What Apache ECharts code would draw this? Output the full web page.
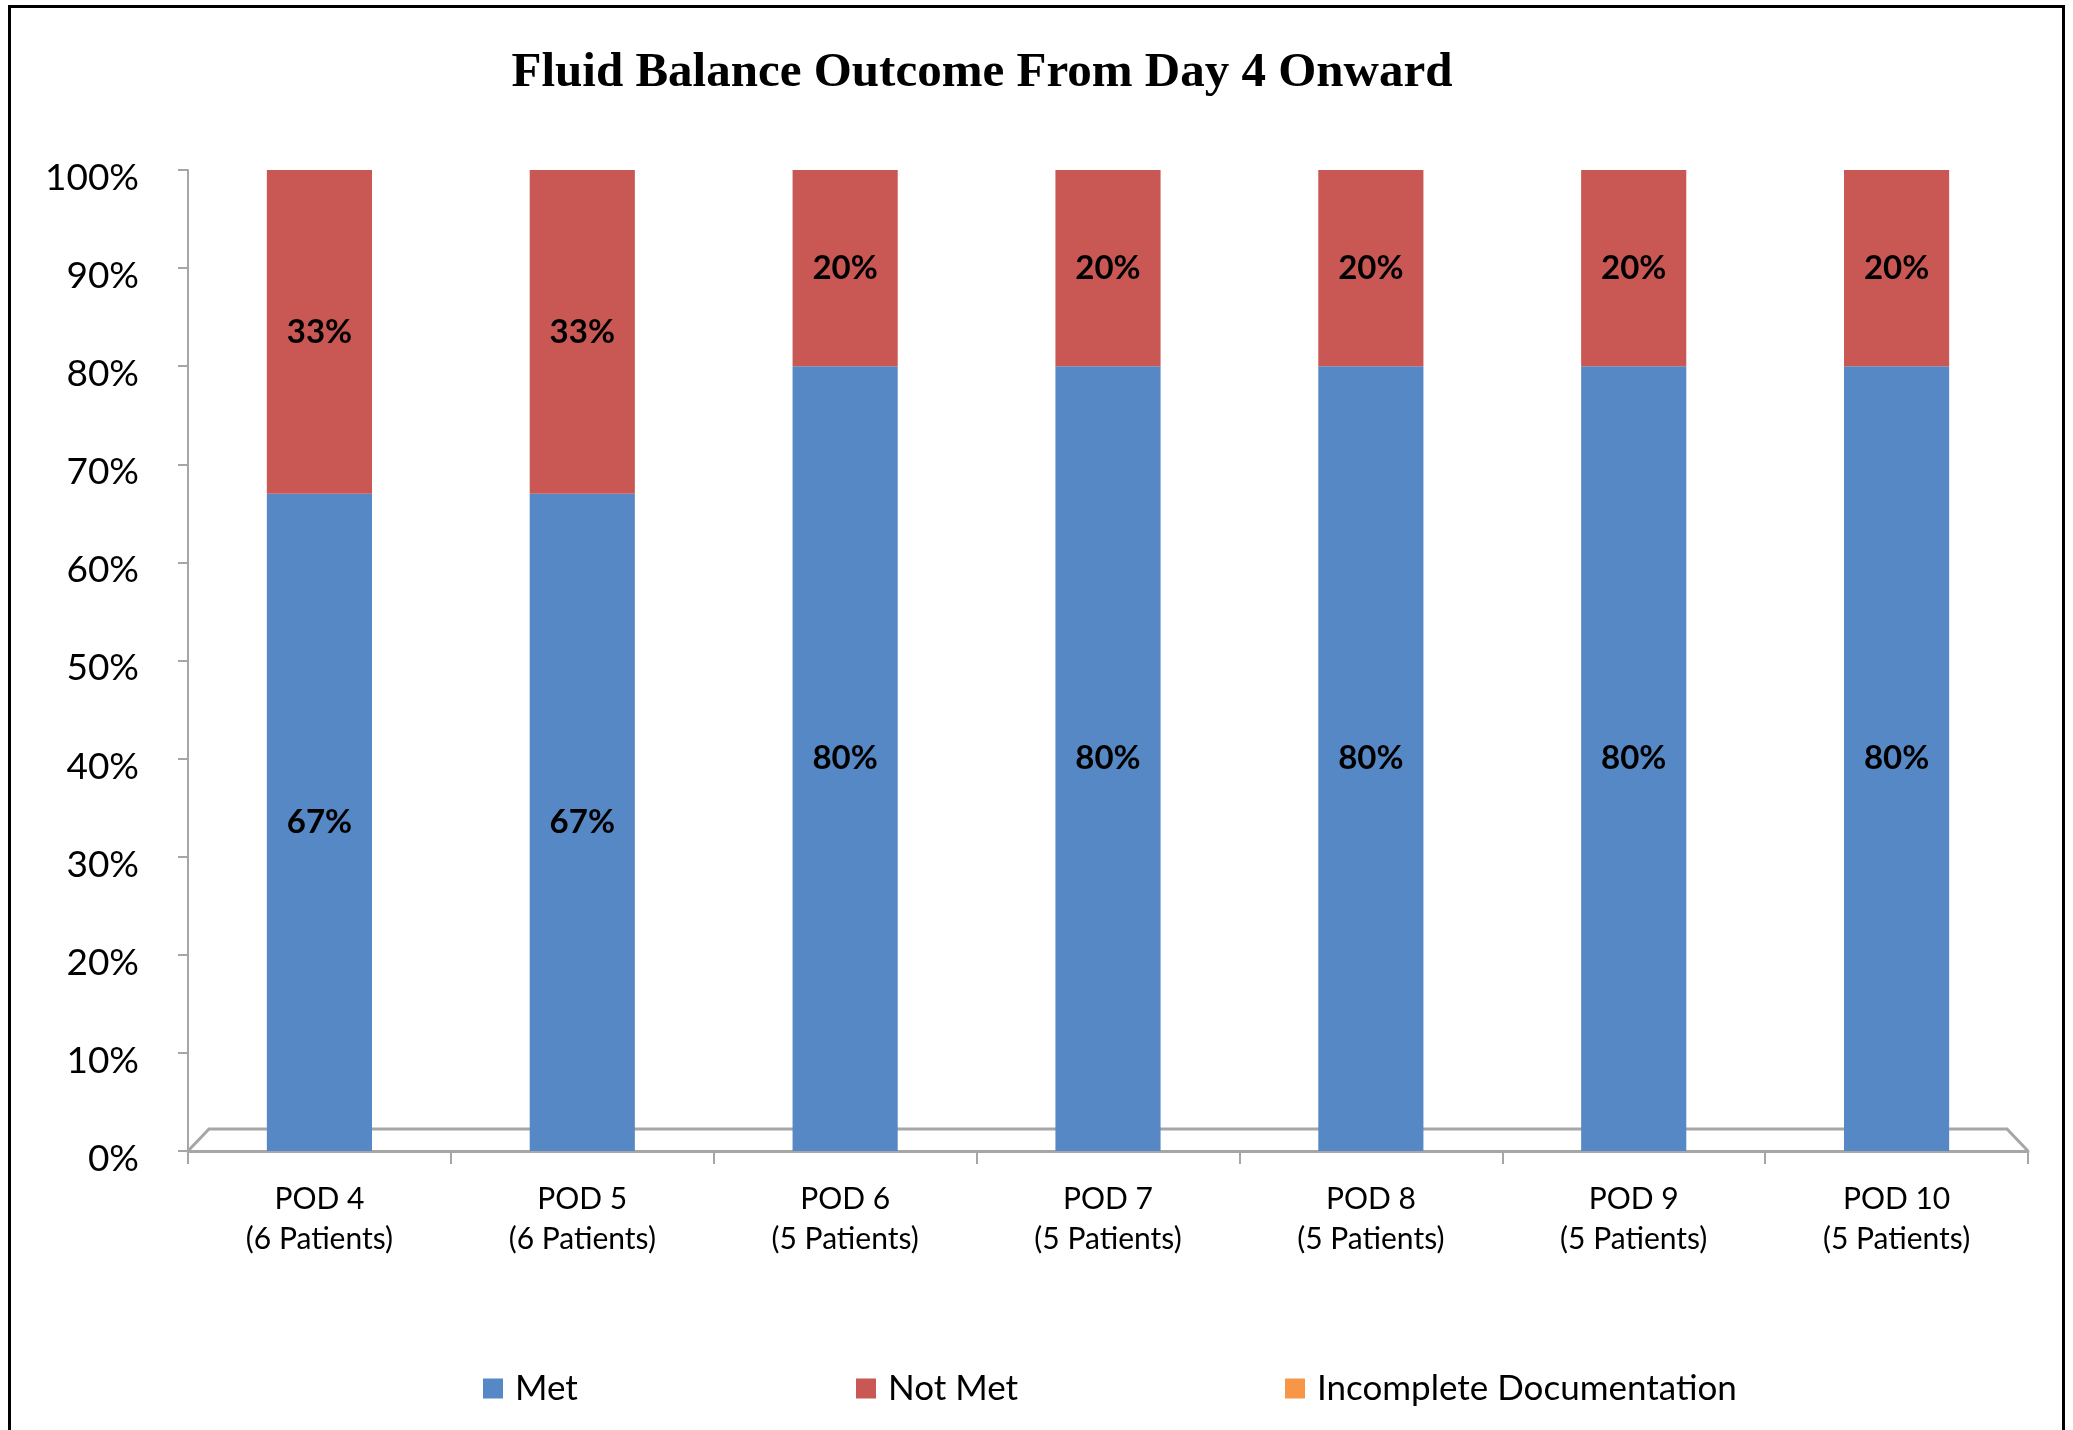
<!DOCTYPE html>
<html>
<head>
<meta charset="utf-8">
<script src="https://cdn.jsdelivr.net/npm/echarts@6/dist/echarts.min.js"></script>
<style>
    html, body { margin: 0; padding: 0; background: #fff; }
    #chart { position: absolute; left: 0; top: 0; width: 2073px; height: 1430px; }
    #frame { position: absolute; left: 8px; top: 5px; width: 2057px; height: 1430px;
             border: 3px solid #000; box-sizing: border-box; pointer-events: none; }
</style>
</head>
<body>
<div id="chart"></div>
<div id="frame"></div>
<script>
// chart data
var categories = ['POD 4\n(6 Patients)', 'POD 5\n(6 Patients)', 'POD 6\n(5 Patients)',
    'POD 7\n(5 Patients)', 'POD 8\n(5 Patients)', 'POD 9\n(5 Patients)', 'POD 10\n(5 Patients)'];
var metValues = [67, 67, 80, 80, 80, 80, 80];
var notMetValues = [33, 33, 20, 20, 20, 20, 20];
var incompleteValues = [0, 0, 0, 0, 0, 0, 0];
var seriesNames = ['Met', 'Not Met', 'Incomplete Documentation'];

var chartDom = document.getElementById('chart');
var myChart = echarts.init(chartDom);
var option;

var labelFont = 'Lato, "Open Sans", sans-serif';

function legendAt(name, left) {
    return {
        data: [name],
        left: left,
        top: 1366,
        itemWidth: 20,
        itemHeight: 20,
        icon: 'rect',
        textStyle: {
            color: '#000',
            fontSize: 35,
            fontFamily: labelFont,
            padding: [0, 0, 0, 7]
        }
    };
}

function dataLabel() {
    return {
        show: true,
        position: 'inside',
        formatter: '{c}%',
        color: '#000',
        fontSize: 33,
        fontWeight: 'bold',
        fontFamily: labelFont
    };
}

option = {
    animation: false,
    title: {
        text: 'Fluid Balance Outcome From Day 4 Onward',
        left: 977,
        textAlign: 'center',
        top: 44,
        textStyle: {
            color: '#000',
            fontSize: 49,
            fontWeight: 'bold',
            fontFamily: '"Liberation Serif", "DejaVu Serif", serif'
        }
    },
    legend: [
        legendAt(seriesNames[0], 478),
        legendAt(seriesNames[1], 851),
        legendAt(seriesNames[2], 1280)
    ],
    grid: {
        left: 188,
        right: 45,
        top: 170,
        bottom: 279
    },
    xAxis: {
        type: 'category',
        data: categories,
        axisLine: { lineStyle: { color: '#A6A6A6', width: 3 } },
        axisTick: { show: true, length: 13, lineStyle: { color: '#A6A6A6', width: 2 } },
        axisLabel: {
            color: '#000',
            fontSize: 30,
            lineHeight: 40,
            margin: 28,
            fontFamily: labelFont
        }
    },
    yAxis: {
        type: 'value',
        min: 0,
        max: 100,
        interval: 10,
        axisLine: { show: true, lineStyle: { color: '#A6A6A6', width: 2 } },
        axisTick: { show: true, length: 10, lineStyle: { color: '#A6A6A6', width: 2 } },
        splitLine: { show: false },
        axisLabel: {
            color: '#000',
            fontSize: 37,
            margin: 49,
            formatter: '{value}%',
            fontFamily: labelFont,
            verticalAlign: 'top',
            lineHeight: 16
        }
    },
    series: [
        {
            name: seriesNames[0],
            type: 'bar',
            stack: 'total',
            barWidth: '40%',
            itemStyle: { color: '#5588C4' },
            label: dataLabel(),
            data: metValues
        },
        {
            name: seriesNames[1],
            type: 'bar',
            stack: 'total',
            barWidth: '40%',
            itemStyle: { color: '#C95753' },
            label: dataLabel(),
            data: notMetValues
        },
        {
            name: seriesNames[2],
            type: 'bar',
            stack: 'total',
            barWidth: '40%',
            itemStyle: { color: '#F79646' },
            data: incompleteValues
        }
    ]
};

option && myChart.setOption(option);

// 3D-style floor outline drawn from the grid's own rect, behind the bars
var rect = myChart.getModel().getComponent('grid').coordinateSystem.getRect();
var x0 = rect.x, x1 = rect.x + rect.width, yb = rect.y + rect.height;
myChart.setOption({
    graphic: [{
        type: 'polyline',
        z: 0,
        silent: true,
        shape: { points: [[x0, yb], [x0 + 21, yb - 22], [x1 - 21, yb - 22], [x1, yb]] },
        style: { stroke: '#A6A6A6', lineWidth: 3, fill: null }
    }]
});
</script>
</body>
</html>
